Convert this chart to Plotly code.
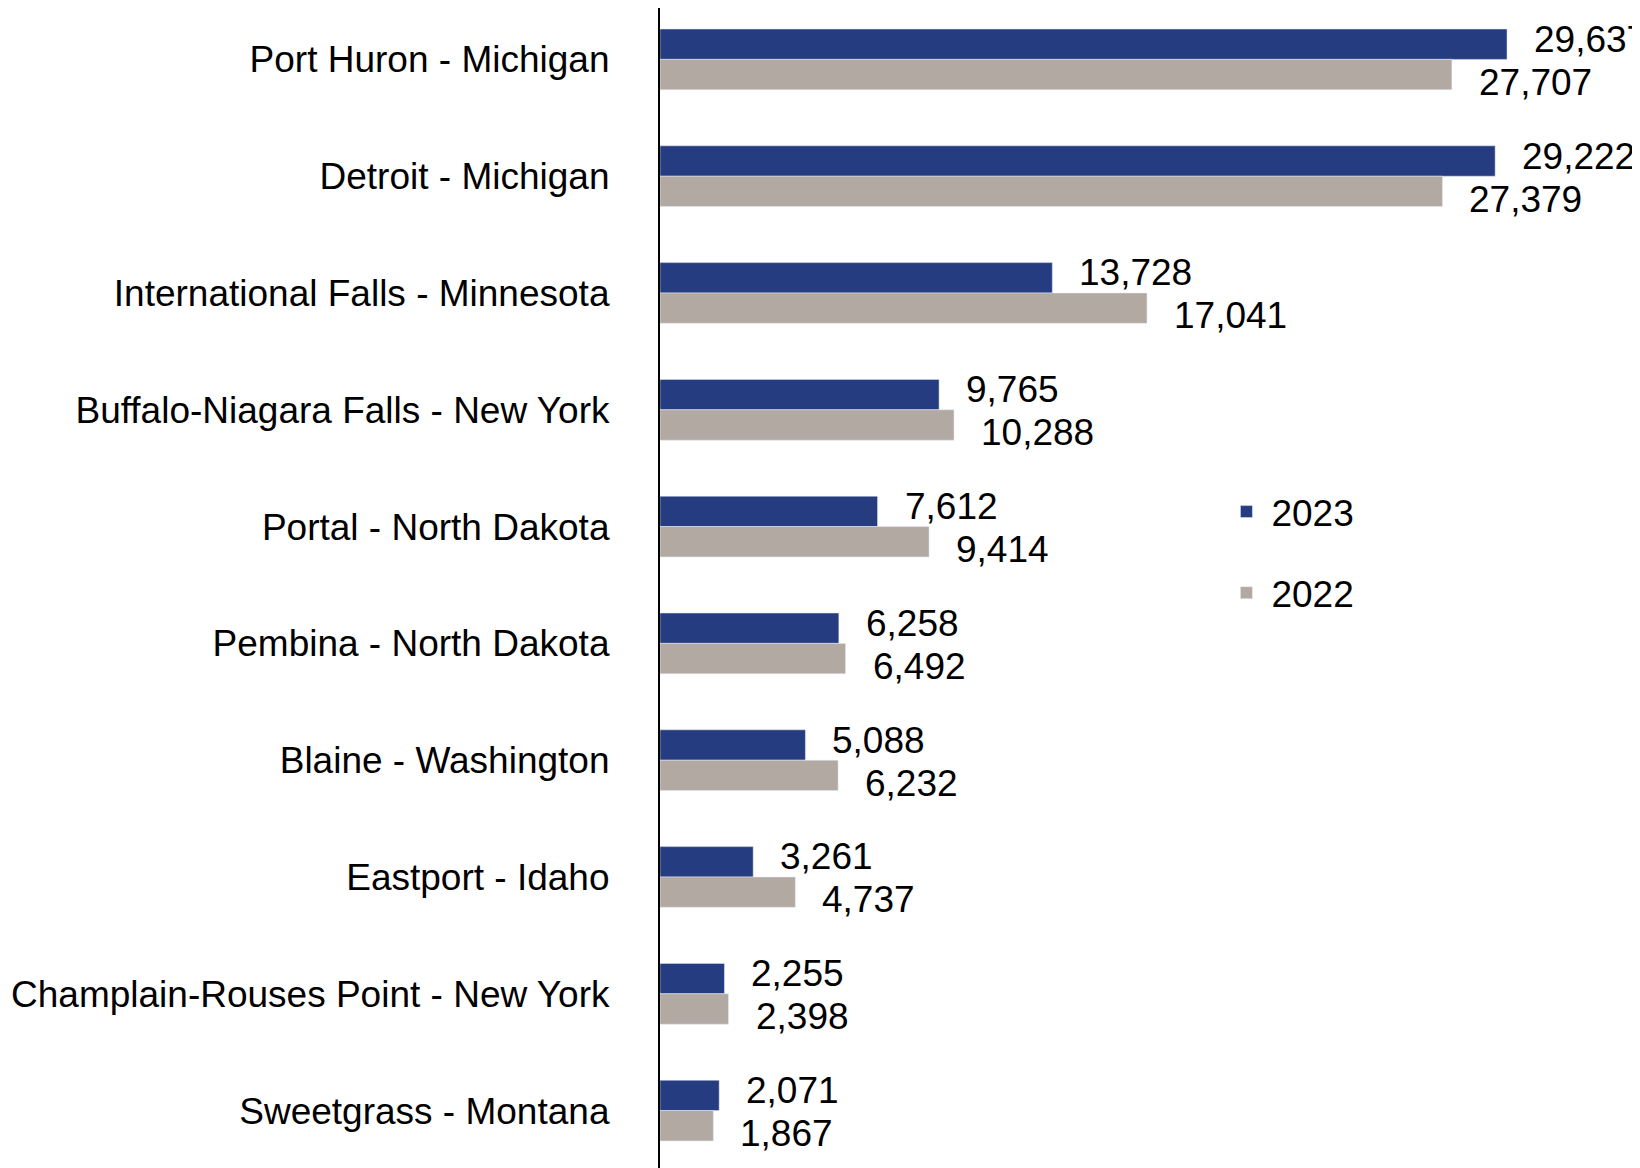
import plotly.graph_objects as go

categories = ["Port Huron - Michigan", "Detroit - Michigan", "International Falls - Minnesota",
              "Buffalo-Niagara Falls - New York", "Portal - North Dakota", "Pembina - North Dakota",
              "Blaine - Washington", "Eastport - Idaho", "Champlain-Rouses Point - New York",
              "Sweetgrass - Montana"]
v2023 = [29637, 29222, 13728, 9765, 7612, 6258, 5088, 3261, 2255, 2071]
v2022 = [27707, 27379, 17041, 10288, 9414, 6492, 6232, 4737, 2398, 1867]

C23 = "#263C80"
C22 = "#B3A9A3"
FONT = "Liberation Sans, Arial, sans-serif"

fig = go.Figure()
fig.add_trace(go.Bar(y=categories, x=v2023, orientation="h", name="2023", marker_color=C23, legendgroup="a"))
fig.add_trace(go.Bar(y=categories, x=v2022, orientation="h", name="2022", marker_color=C22, legendgroup="b"))

anns = []
for c, a, b in zip(categories, v2023, v2022):
    anns.append(dict(x=a, y=c, text=f"{a:,}", showarrow=False, xanchor="left",
                     xshift=25, yshift=20, font=dict(size=37, color="black", family=FONT)))
    anns.append(dict(x=b, y=c, text=f"{b:,}", showarrow=False, xanchor="left",
                     xshift=25, yshift=-23, font=dict(size=37, color="black", family=FONT)))

fig.update_layout(
    width=1640, height=1168, barmode="group", bargap=0.48, bargroupgap=0,
    plot_bgcolor="white", paper_bgcolor="white",
    margin=dict(l=652, r=20, t=0, b=0),
    font=dict(family=FONT, size=37, color="black"),
    annotations=anns,
    legend=dict(x=0.58, y=0.595, xanchor="left", yanchor="top", traceorder="grouped",
                font=dict(size=37), itemwidth=40, tracegroupgap=30, bgcolor="rgba(0,0,0,0)"),
    xaxis=dict(range=[0, 33870], visible=False),
    yaxis=dict(range=[9.56, -0.44], showline=True, linecolor="black", linewidth=2,
               ticks="", ticksuffix="    ", tickfont=dict(size=37), showgrid=False),
)
fig.write_html("out.html")
